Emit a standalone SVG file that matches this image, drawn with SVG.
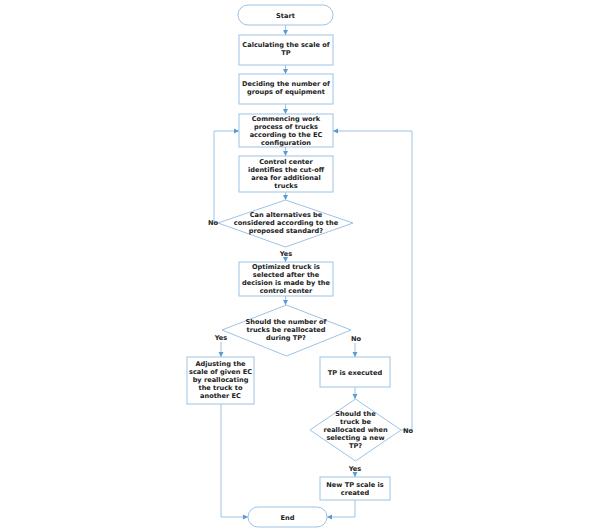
<svg xmlns="http://www.w3.org/2000/svg" width="600" height="532" viewBox="0 0 600 532">
<defs>
<marker id="ah" markerWidth="6" markerHeight="6" refX="5" refY="3" orient="auto" markerUnits="userSpaceOnUse">
<path d="M0,0.5 L5,3 L0,5.5 Z" fill="#5B9BD5"/>
</marker>
<style>
.n{fill:#fff;stroke:#9DC3E6;stroke-width:1}
.t{font-family:"DejaVu Sans",Verdana,sans-serif;font-weight:bold;font-size:6.6px;fill:#222;text-anchor:middle}
.c{fill:none;stroke:#9DC3E6;stroke-width:1;marker-end:url(#ah)}
</style>
</defs>
<rect width="600" height="532" fill="#fff"/>
<g id="connectors">
<path class="c" d="M285.5,25 V35"/>
<path class="c" d="M285.5,65 V74"/>
<path class="c" d="M285.5,104 V114"/>
<path class="c" d="M285.5,147 V156"/>
<path class="c" d="M285.5,192 V200"/>
<path class="c" d="M285.5,258 V262"/>
<path class="c" d="M285.5,296 V305"/>
<path class="c" d="M218,223 H214 V131 H239"/>
<path class="c" d="M221,342 V357"/>
<path class="c" d="M355,343 V357"/>
<path class="c" d="M355,387 V399"/>
<path class="c" d="M355,473 V477"/>
<path class="c" d="M401,430 H412 V131 H333"/>
<path class="c" d="M221,404 V517 H248"/>
<path class="c" d="M355,500 V517 H327"/>
</g>
<g id="start"><rect class="n" x="238" y="5" width="95" height="20" rx="10"/><text class="t" x="285.5" y="17.5">Start</text></g>
<g id="calc"><rect class="n" x="239" y="35" width="94" height="30"/><text class="t" x="286" y="47">Calculating the scale of</text><text class="t" x="286" y="55">TP</text></g>
<g id="decide"><rect class="n" x="239" y="74" width="94" height="30"/><text class="t" x="286" y="86">Deciding the number of</text><text class="t" x="286" y="94">groups of equipment</text></g>
<g id="commence"><rect class="n" x="239" y="114" width="94" height="33"/><text class="t" x="286" y="120.5">Commencing work</text><text class="t" x="286" y="128.5">process of trucks</text><text class="t" x="286" y="136.5">according to the EC</text><text class="t" x="286" y="144.5">configuration</text></g>
<g id="control"><rect class="n" x="239" y="156" width="94" height="36"/><text class="t" x="286" y="163.5">Control center</text><text class="t" x="286" y="171.5">identifies the cut-off</text><text class="t" x="286" y="179.5">area for additional</text><text class="t" x="286" y="187.5">trucks</text></g>
<g id="d1"><polygon class="n" points="285.5,200 353,223 285.5,247 218,223"/><text class="t" x="286" y="217">Can alternatives be</text><text class="t" x="286" y="225">considered according to the</text><text class="t" x="286" y="233">proposed standard?</text></g>
<g id="optimized"><rect class="n" x="239" y="262" width="94" height="34"/><text class="t" x="286" y="269">Optimized truck is</text><text class="t" x="286" y="277">selected after the</text><text class="t" x="286" y="285">decision is made by the</text><text class="t" x="286" y="293">control center</text></g>
<g id="d2"><polygon class="n" points="286.5,305 351,330 286.5,356 222,330"/><text class="t" x="286" y="324">Should the number of</text><text class="t" x="286" y="332">trucks be reallocated</text><text class="t" x="286" y="340">during TP?</text></g>
<g id="adjust"><rect class="n" x="187" y="357" width="67" height="47"/><text class="t" x="220.5" y="366">Adjusting the</text><text class="t" x="220.5" y="374">scale of given EC</text><text class="t" x="220.5" y="382">by reallocating</text><text class="t" x="220.5" y="390">the truck to</text><text class="t" x="220.5" y="398">another EC</text></g>
<g id="tp"><rect class="n" x="320" y="357" width="70" height="30"/><text class="t" x="355" y="374.5">TP is executed</text></g>
<g id="d3"><polygon class="n" points="355.5,399 401,430 355.5,461 310,430"/><text class="t" x="355.5" y="416">Should the</text><text class="t" x="355.5" y="424">truck be</text><text class="t" x="355.5" y="432">reallocated when</text><text class="t" x="355.5" y="440">selecting a new</text><text class="t" x="355.5" y="448">TP?</text></g>
<g id="newtp"><rect class="n" x="320" y="477" width="70" height="23"/><text class="t" x="355" y="486.5">New TP scale is</text><text class="t" x="355" y="494.5">created</text></g>
<g id="end"><rect class="n" x="248" y="507" width="79" height="20" rx="10"/><text class="t" x="287.5" y="519.5">End</text></g>
<g id="labels">
<text class="t" x="213" y="224.5">No</text>
<text class="t" x="286" y="256">Yes</text>
<text class="t" x="221" y="340">Yes</text>
<text class="t" x="356" y="341">No</text>
<text class="t" x="408" y="433">No</text>
<text class="t" x="355" y="471">Yes</text>
</g>
</svg>
